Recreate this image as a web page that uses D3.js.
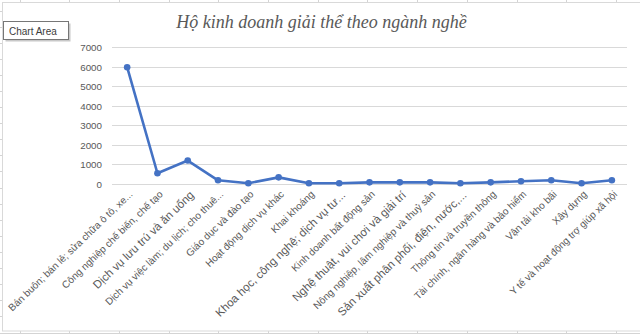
<!DOCTYPE html>
<html>
<head>
<meta charset="utf-8">
<script src="https://cdn.jsdelivr.net/npm/d3@7"></script>
<style>
  html, body { margin: 0; padding: 0; background: #fff; }
  svg { display: block; }
</style>
</head>
<body>
<div id="chart"></div>
<script>
// data
const categories = [
  "Bán buôn; bán lẻ; sửa chữa ô tô, xe...",
  "Công nghiệp chế biến, chế tạo",
  "Dịch vụ lưu trú và ăn uống",
  "Dịch vụ việc làm; du lịch; cho thuê...",
  "Giáo dục và đào tạo",
  "Hoạt động dịch vụ khác",
  "Khai khoáng",
  "Khoa học, công nghệ; dịch vụ tư...",
  "Kinh doanh bất động sản",
  "Nghệ thuật, vui chơi và giải trí",
  "Nông nghiệp, lâm nghiệp và thuỷ sản",
  "Sản xuất phân phối, điện, nước,...",
  "Thông tin và truyền thông",
  "Tài chính, ngân hàng và bảo hiểm",
  "Vận tải kho bãi",
  "Xây dựng",
  "Y tế và hoạt động trợ giúp xã hội"
];
const values = [5980, 550, 1200, 190, 40, 340, 40, 40, 85, 85, 85, 35, 85, 140, 190, 35, 190];
const yTicks = [0, 1000, 2000, 3000, 4000, 5000, 6000, 7000];
const title = "Hộ kinh doanh giải thể theo ngành nghề";

const width = 640, height = 334;
const blue = "#4472c4";
const grey = "#595959";
const sans = "'Liberation Sans', Arial, sans-serif";

const svg = d3.select("#chart").append("svg")
  .attr("width", width)
  .attr("height", height);

// spreadsheet cells behind the chart
const sheet = svg.append("g").attr("stroke", "#d4d4d4").attr("stroke-width", 1);
for (let x = 19.5; x < width; x += 49.7) {
  sheet.append("line").attr("x1", Math.round(x) + 0.5).attr("x2", Math.round(x) + 0.5)
    .attr("y1", 0).attr("y2", height);
}
for (let y = 10.5; y < height; y += 16.1) {
  sheet.append("line").attr("x1", 0).attr("x2", width)
    .attr("y1", Math.round(y) + 0.5).attr("y2", Math.round(y) + 0.5);
}

// chart area
svg.append("rect")
  .attr("x", 2.5).attr("y", 2.5)
  .attr("width", width).attr("height", 328.5)
  .attr("fill", "#fff")
  .attr("stroke", "#d9d9d9");

const margin = { left: 112, right: 13 };

const x = d3.scaleBand()
  .domain(categories)
  .range([margin.left, width - margin.right]);

const y = d3.scaleLinear()
  .domain([0, 7000])
  .range([184, 47.3]);

const cx = d => x(d) + x.bandwidth() / 2;

// gridlines
svg.append("g")
  .selectAll("line")
  .data(yTicks)
  .join("line")
  .attr("x1", margin.left)
  .attr("x2", width - margin.right)
  .attr("y1", d => Math.round(y(d)) + 0.5)
  .attr("y2", d => Math.round(y(d)) + 0.5)
  .attr("stroke", "#d9d9d9")
  .attr("stroke-width", 1);

// y axis labels
const yAxis = svg.append("g")
  .attr("transform", `translate(${margin.left - 10},0)`)
  .call(d3.axisLeft(y).tickValues(yTicks).tickSize(0).tickFormat(d3.format("d")));
yAxis.select(".domain").remove();
yAxis.selectAll("text")
  .attr("x", 0)
  .attr("dy", "0.35em")
  .style("font-family", sans)
  .style("font-size", "9.8px")
  .style("fill", grey);

// x axis labels, rotated; a few render larger in the original
const bigLabels = new Set([2, 7, 9, 11]);
const labelSize = i => bigLabels.has(i) ? 11.5 : 10;
svg.append("g")
  .selectAll("text")
  .data(categories)
  .join("text")
  .attr("transform", (d, i) => {
    const s = labelSize(i);
    return `translate(${cx(d) + 0.6 * s},${189 + 0.6 * s}) rotate(-44)`;
  })
  .attr("text-anchor", "end")
  .style("font-family", sans)
  .style("font-size", (d, i) => labelSize(i) + "px")
  .style("fill", grey)
  .text(d => d);

// line + markers
const line = d3.line()
  .x((d, i) => cx(categories[i]))
  .y(d => y(d));

svg.append("path")
  .datum(values)
  .attr("d", line)
  .attr("fill", "none")
  .attr("stroke", blue)
  .attr("stroke-width", 2.6)
  .attr("stroke-linejoin", "round");

svg.append("g")
  .selectAll("circle")
  .data(values)
  .join("circle")
  .attr("cx", (d, i) => cx(categories[i]))
  .attr("cy", d => y(d))
  .attr("r", 3.3)
  .attr("fill", blue);

// title
svg.append("text")
  .attr("x", 321.5)
  .attr("y", 27.5)
  .attr("text-anchor", "middle")
  .style("font-family", "'Liberation Serif', 'Times New Roman', serif")
  .style("font-style", "italic")
  .style("font-size", "18px")
  .style("fill", grey)
  .text(title);

// "Chart Area" tooltip
const tip = svg.append("g");
tip.append("rect")
  .attr("x", 5.5).attr("y", 23.5)
  .attr("width", 65).attr("height", 18)
  .attr("fill", "#c8c8c8");
tip.append("rect")
  .attr("x", 3.5).attr("y", 21.5)
  .attr("width", 65).attr("height", 18)
  .attr("fill", "#fff")
  .attr("stroke", "#767676");
tip.append("text")
  .attr("x", 9)
  .attr("y", 34.5)
  .style("font-family", sans)
  .style("font-size", "10px")
  .style("fill", "#3c3c3c")
  .text("Chart Area");
</script>
</body>
</html>
